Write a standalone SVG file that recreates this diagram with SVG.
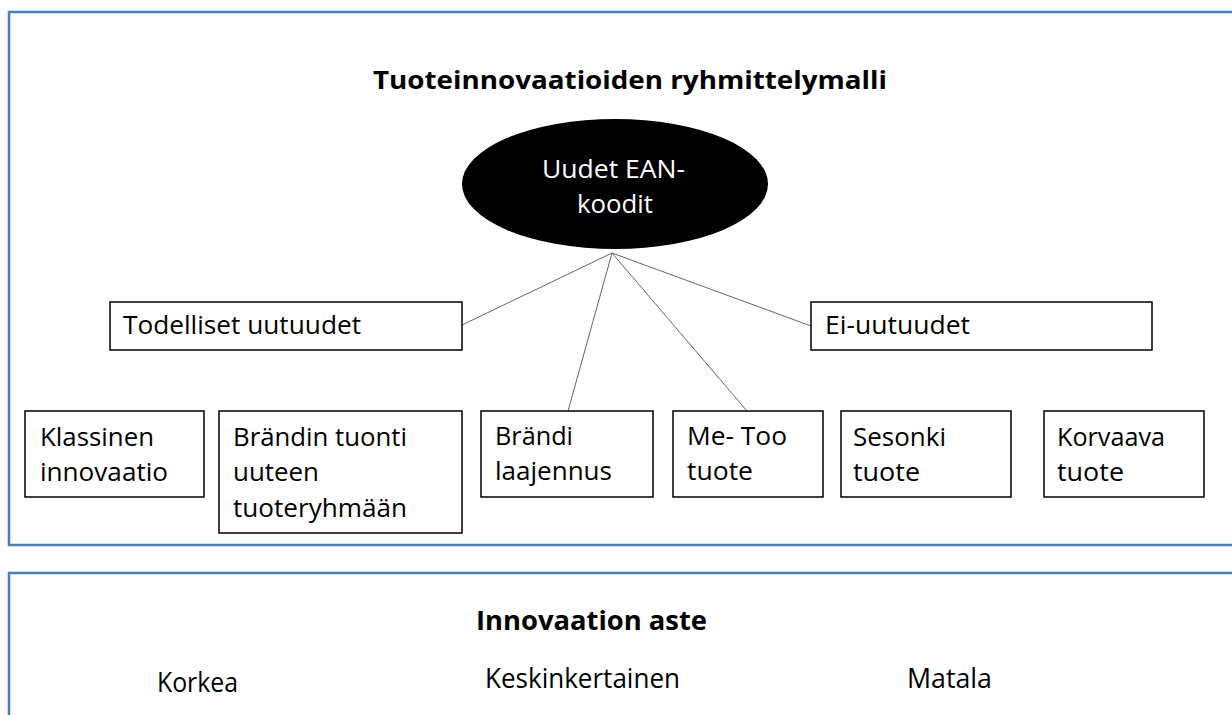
<svg xmlns="http://www.w3.org/2000/svg" width="1232" height="715" viewBox="0 0 1232 715">
<style>
.frame{fill:#fff;stroke:#4a7ebb;stroke-width:2.5}
.box{fill:#fff;stroke:#000;stroke-width:1.5}
.t{font-family:"Open Sans","Liberation Sans",sans-serif;font-size:26px;fill:#000}
.b{font-family:"Open Sans","Liberation Sans",sans-serif;font-size:25px;font-weight:bold;fill:#000}
.w{font-family:"Open Sans","Liberation Sans",sans-serif;font-size:26px;fill:#fff}
.c{stroke:#666;stroke-width:1;fill:none}
</style>
<rect width="1232" height="715" fill="#fff"/>
<g id="frame-top"><rect class="frame" x="9" y="12" width="1240" height="533"/></g>
<g id="frame-bottom"><rect class="frame" x="9" y="573" width="1240" height="200"/></g>
<g id="title"><text class="b" x="373" y="89" textLength="514" lengthAdjust="spacingAndGlyphs">Tuoteinnovaatioiden ryhmittelymalli</text></g>
<g id="connectors">
<line class="c" x1="612" y1="253" x2="462" y2="325"/>
<line class="c" x1="612" y1="253" x2="568" y2="411"/>
<line class="c" x1="612" y1="253" x2="747" y2="411"/>
<line class="c" x1="612" y1="253" x2="811" y2="326"/>
</g>
<g id="root">
<ellipse cx="615" cy="184" rx="153" ry="65" fill="#000"/>
<text class="w" x="542" y="178" textLength="143" lengthAdjust="spacingAndGlyphs">Uudet EAN-</text>
<text class="w" x="577" y="213" textLength="76" lengthAdjust="spacingAndGlyphs">koodit</text>
</g>
<g id="todelliset">
<rect class="box" x="110" y="302" width="352" height="48"/>
<text class="t" x="123" y="334" textLength="238" lengthAdjust="spacingAndGlyphs">Todelliset uutuudet</text>
</g>
<g id="ei-uutuudet">
<rect class="box" x="811" y="302" width="341" height="48"/>
<text class="t" x="825" y="334" textLength="145" lengthAdjust="spacingAndGlyphs">Ei-uutuudet</text>
</g>
<g id="klassinen">
<rect class="box" x="25" y="411" width="179" height="86"/>
<text class="t" x="40" y="446" textLength="114" lengthAdjust="spacingAndGlyphs">Klassinen</text>
<text class="t" x="40" y="481" textLength="128" lengthAdjust="spacingAndGlyphs">innovaatio</text>
</g>
<g id="brandin-tuonti">
<rect class="box" x="219" y="411" width="243" height="122"/>
<text class="t" x="233" y="446" textLength="174" lengthAdjust="spacingAndGlyphs">Brändin tuonti</text>
<text class="t" x="233" y="481" textLength="86" lengthAdjust="spacingAndGlyphs">uuteen</text>
<text class="t" x="233" y="517" textLength="174" lengthAdjust="spacingAndGlyphs">tuoteryhmään</text>
</g>
<g id="brandi-laajennus">
<rect class="box" x="481" y="411" width="172" height="86"/>
<text class="t" x="495" y="445" textLength="78" lengthAdjust="spacingAndGlyphs">Brändi</text>
<text class="t" x="495" y="480" textLength="117" lengthAdjust="spacingAndGlyphs">laajennus</text>
</g>
<g id="me-too">
<rect class="box" x="673" y="411" width="150" height="86"/>
<text class="t" x="687" y="445" textLength="100" lengthAdjust="spacingAndGlyphs">Me- Too</text>
<text class="t" x="687" y="480" textLength="66" lengthAdjust="spacingAndGlyphs">tuote</text>
</g>
<g id="sesonki">
<rect class="box" x="841" y="411" width="170" height="86"/>
<text class="t" x="853" y="446" textLength="93" lengthAdjust="spacingAndGlyphs">Sesonki</text>
<text class="t" x="853" y="481" textLength="67" lengthAdjust="spacingAndGlyphs">tuote</text>
</g>
<g id="korvaava">
<rect class="box" x="1044" y="411" width="160" height="86"/>
<text class="t" x="1057" y="446" textLength="108" lengthAdjust="spacingAndGlyphs">Korvaava</text>
<text class="t" x="1057" y="481" textLength="67" lengthAdjust="spacingAndGlyphs">tuote</text>
</g>
<g id="aste">
<text class="b" x="476" y="630" textLength="231" lengthAdjust="spacingAndGlyphs" style="font-size:27px">Innovaation aste</text>
<text class="t" x="157" y="692" textLength="81" lengthAdjust="spacingAndGlyphs" style="font-size:27px">Korkea</text>
<text class="t" x="485" y="688" textLength="195" lengthAdjust="spacingAndGlyphs" style="font-size:27px">Keskinkertainen</text>
<text class="t" x="907" y="688" textLength="85" lengthAdjust="spacingAndGlyphs" style="font-size:27px">Matala</text>
</g>
</svg>
